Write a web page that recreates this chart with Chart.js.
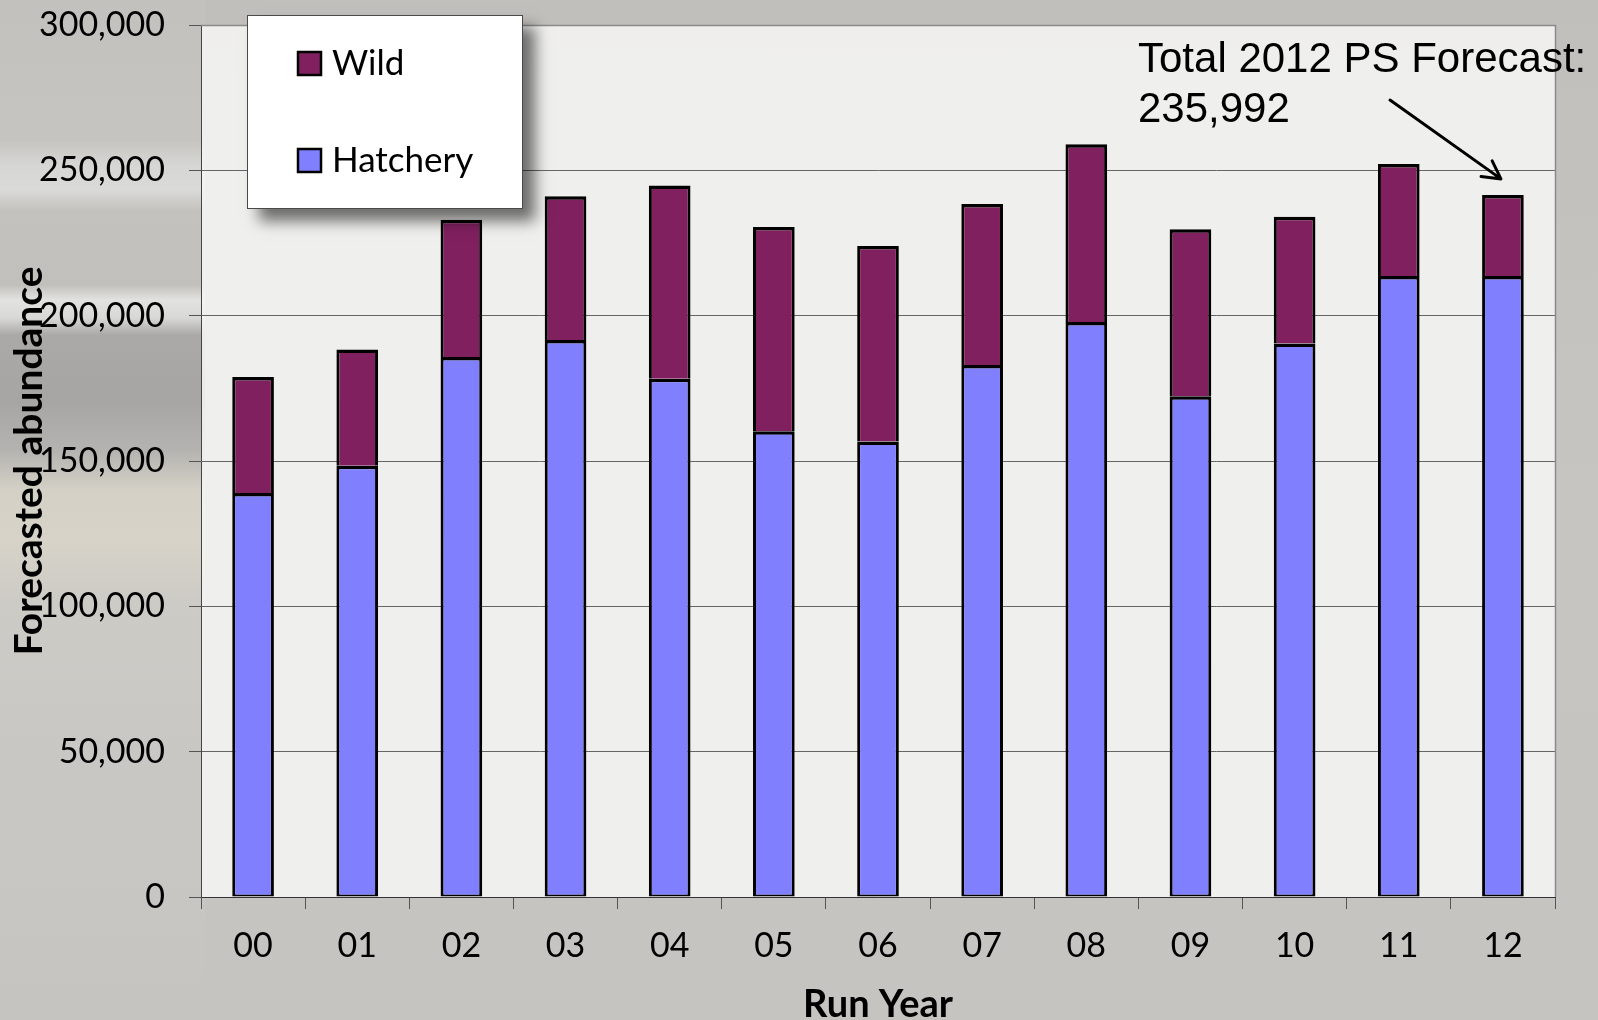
<!DOCTYPE html>
<html>
<head>
<meta charset="utf-8">
<script src="https://cdn.jsdelivr.net/npm/chart.js@4.4.1/dist/chart.umd.min.js"></script>
<style>
html, body { margin: 0; padding: 0; width: 1598px; height: 1020px; overflow: hidden; }
body {
  background-color: #c6c4c0;
  background-image:
    linear-gradient(to bottom,
      #c3c1bd 0px, #c6c4c0 140px, #d6d6d4 165px, #dadad8 190px, #c4c2be 210px,
      #c2c0bc 285px, #e2e2e0 300px, #d8d8d6 318px, #aaa9a7 335px, #a6a5a3 400px,
      #b4b3b0 450px, #d4d0c6 490px, #d7d3c8 540px, #cdcbc6 600px, #c9c7c3 760px,
      #c8c6c2 900px, #c6c4c0 1020px),
    linear-gradient(to bottom, #c1bfbb 0px, #c7c5c1 500px, #c6c4c0 1020px);
  background-size: 205px 1020px, 1598px 1020px;
  background-repeat: no-repeat;
}
#wrap { position: relative; width: 1598px; height: 1020px; }
canvas { display: block; }
</style>
</head>
<body>
<div id="wrap"><canvas id="c" width="1598" height="1020"></canvas></div>
<script>
// ---- data ----
const categories = ['00', '01', '02', '03', '04', '05', '06', '07', '08', '09', '10', '11', '12'];
const hatchery = [139000, 148400, 185800, 191650, 178300, 160200, 156750, 183050, 197850, 172250, 190450, 213650, 213650];
const wild     = [39900, 40000, 47200, 49400, 66450, 70300, 67250, 55400, 61100, 57450, 43600, 38550, 27900];
const seriesNames = ['Hatchery', 'Wild'];
const yTickStep = 50000;
const yMax = 300000;
const annotationLines = ['Total 2012 PS Forecast:', '235,992'];
const axisTitles = { x: 'Run Year', y: 'Forecasted abundance' };

const HATCH_COLOR = '#8080ff';
const WILD_COLOR = '#80205f';

const plotFrame = {
  id: 'plotFrame',
  beforeDraw(chart) {
    const { ctx, chartArea: a } = chart;
    ctx.save();
    ctx.fillStyle = 'rgba(245,245,244,0.88)';
    ctx.fillRect(a.left, a.top, a.right - a.left, a.bottom - a.top);
    ctx.restore();
  },
  beforeDatasetsDraw(chart) {
    const { ctx, chartArea: a } = chart;
    ctx.save();
    ctx.strokeStyle = '#8a8a8a';
    ctx.lineWidth = 1.5;
    ctx.beginPath();
    ctx.moveTo(a.left, a.top + 0.5);
    ctx.lineTo(a.right + 0.5, a.top + 0.5);
    ctx.lineTo(a.right + 0.5, a.bottom);
    ctx.stroke();
    ctx.restore();
  }
};

const boxLegend = {
  id: 'boxLegend',
  afterDraw(chart) {
    const ctx = chart.ctx;
    const bx = 247, by = 15, bw = 276, bh = 194;
    ctx.save();
    ctx.shadowColor = 'rgba(0,0,0,0.55)';
    ctx.shadowBlur = 14;
    ctx.shadowOffsetX = 12;
    ctx.shadowOffsetY = 12;
    ctx.fillStyle = '#ffffff';
    ctx.fillRect(bx, by, bw, bh);
    ctx.restore();
    ctx.save();
    ctx.strokeStyle = '#4a4a4a';
    ctx.lineWidth = 1;
    ctx.strokeRect(bx + 0.5, by + 0.5, bw - 1, bh - 1);
    const items = chart.data.datasets.slice().reverse();
    items.forEach((ds, i) => {
      const base = 75 + i * 97;
      ctx.fillStyle = ds.backgroundColor;
      ctx.fillRect(298, base - 23, 23, 23);
      ctx.strokeStyle = '#000';
      ctx.lineWidth = 2.5;
      ctx.strokeRect(298, base - 23, 23, 23);
      ctx.fillStyle = '#000';
      ctx.font = '35px Lato';
      ctx.textBaseline = 'alphabetic';
      ctx.textAlign = 'left';
      ctx.fillText(ds.label, 332, base);
    });
    ctx.restore();
  }
};

const forecastNote = {
  id: 'forecastNote',
  afterDraw(chart) {
    const ctx = chart.ctx;
    const xs = chart.scales.x, ys = chart.scales.y;
    const last = categories.length - 1;
    ctx.save();
    ctx.fillStyle = '#000';
    ctx.font = '42px "Liberation Sans", Arial, sans-serif';
    ctx.textBaseline = 'alphabetic';
    ctx.textAlign = 'left';
    annotationLines.forEach((t, i) => ctx.fillText(t, 1138, 72 + i * 50));
    // arrow pointing to the last bar
    const tx = xs.getPixelForValue(last) - 2;
    const ty = ys.getPixelForValue(hatchery[last] + wild[last]) - 16;
    const sx = 1390, sy = 100;
    ctx.strokeStyle = '#000';
    ctx.lineWidth = 3;
    ctx.lineCap = 'round';
    ctx.beginPath();
    ctx.moveTo(sx, sy);
    ctx.lineTo(tx, ty);
    const ang = Math.atan2(ty - sy, tx - sx);
    const L = 20, spread = 0.5;
    ctx.moveTo(tx, ty);
    ctx.lineTo(tx - L * Math.cos(ang - spread), ty - L * Math.sin(ang - spread));
    ctx.moveTo(tx, ty);
    ctx.lineTo(tx - L * Math.cos(ang + spread), ty - L * Math.sin(ang + spread));
    ctx.stroke();
    ctx.restore();
  }
};

function draw() {
  new Chart(document.getElementById('c'), {
    type: 'bar',
    data: {
      labels: categories,
      datasets: [
        {
          label: seriesNames[0], data: hatchery,
          backgroundColor: HATCH_COLOR, borderColor: '#000',
          borderWidth: { left: 3, right: 3, top: 3.5, bottom: 2 }, borderSkipped: false,
          barPercentage: 0.4, categoryPercentage: 1
        },
        {
          label: seriesNames[1], data: wild,
          backgroundColor: WILD_COLOR, borderColor: '#000',
          borderWidth: { left: 3, right: 3, top: 3.5, bottom: 0 }, borderSkipped: false,
          barPercentage: 0.4, categoryPercentage: 1
        }
      ]
    },
    options: {
      responsive: false,
      animation: false,
      devicePixelRatio: 1,
      layout: { padding: { top: 25, right: 43, left: 0, bottom: 0 } },
      plugins: { legend: { display: false }, tooltip: { enabled: false } },
      scales: {
        x: {
          stacked: true,
          ticks: { color: '#000', font: { family: 'Lato', size: 34 }, padding: 17 },
          grid: { display: true, drawOnChartArea: false, drawTicks: true, tickLength: 12, tickColor: '#555', offset: true },
          border: { display: true, color: '#333', width: 1 },
          title: { display: true, text: axisTitles.x, color: '#000',
                   font: { family: 'Lato', size: 38, weight: 'bold', lineHeight: 0.8 },
                   padding: { top: 0, bottom: 0 } },
          afterFit(s) { s.height = 123; s.paddingLeft = 0; s.paddingRight = 0; }
        },
        y: {
          stacked: true, min: 0, max: yMax,
          ticks: { stepSize: yTickStep, color: '#000', font: { family: 'Lato', size: 34 }, padding: 24,
                   callback: v => Number(v).toLocaleString('en-US') },
          grid: { color: '#666', lineWidth: 1, drawTicks: true, tickLength: 12, tickColor: '#555' },
          border: { display: true, color: '#444', width: 1 },
          title: { display: true, text: axisTitles.y, color: '#000',
                   font: { family: 'Lato', size: 39, weight: 'bold', lineHeight: 1 },
                   padding: { top: 10, bottom: 0 } },
          afterFit(s) { s.width = 201; s.paddingTop = 0; s.paddingBottom = 0; }
        }
      }
    },
    plugins: [plotFrame, boxLegend, forecastNote]
  });
}

Promise.all([
  document.fonts.load('34px Lato'),
  document.fonts.load('bold 38px Lato'),
  document.fonts.load('42px "Liberation Sans"')
]).catch(() => {}).then(draw);
</script>
</body>
</html>
